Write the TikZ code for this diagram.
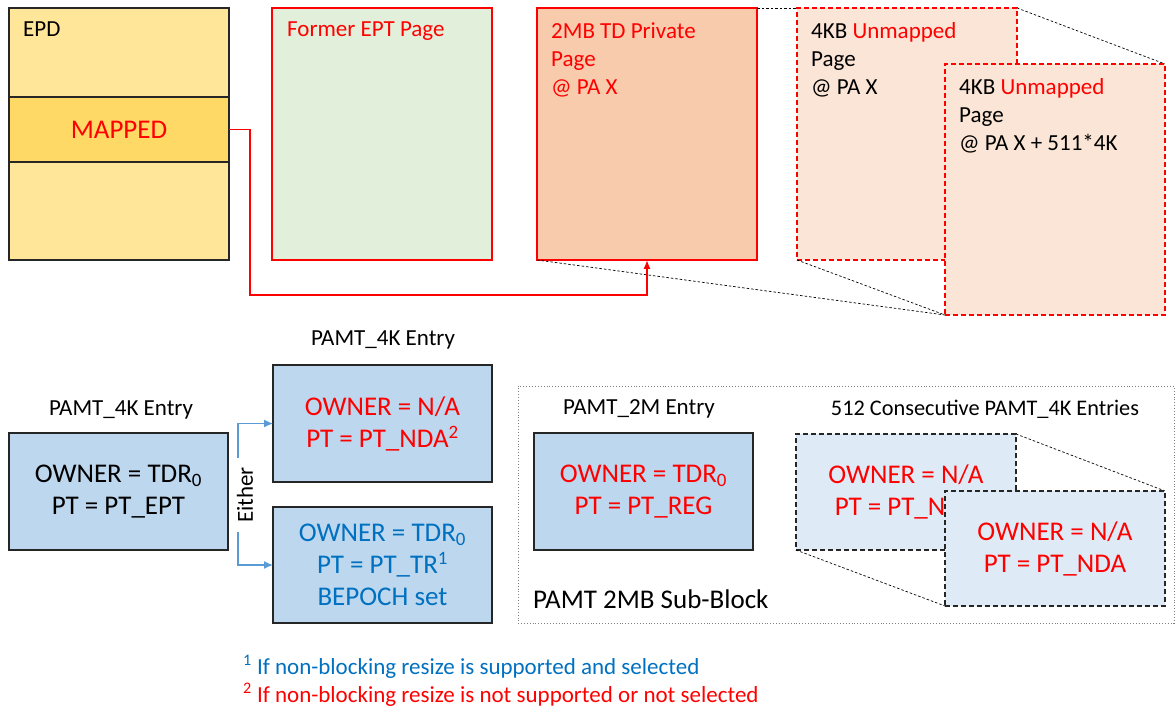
\documentclass[tikz,border=0pt]{standalone}
\usepackage{fontspec}
\setmainfont{Carlito}
\usetikzlibrary{arrows.meta}
\definecolor{epdy}{HTML}{FFE699}
\definecolor{epdm}{HTML}{FFD966}
\definecolor{eptg}{HTML}{E2EFDA}
\definecolor{tdor}{HTML}{F8CBAD}
\definecolor{kbor}{HTML}{FBE5D6}
\definecolor{pblue}{HTML}{BDD7EE}
\definecolor{lblue}{HTML}{DEEBF7}
\definecolor{tblue}{HTML}{0070C0}
\definecolor{ablue}{HTML}{5B9BD5}
\definecolor{xred}{HTML}{FF0000}
\definecolor{bord}{HTML}{262626}
\tikzset{
  lbl/.style={font=\fontsize{23}{28}\selectfont, inner sep=0pt},
  big/.style={font=\fontsize{27}{32}\selectfont, align=center},
  pagebox/.style={draw=xred, line width=1.3pt, minimum width=220pt, minimum height=252pt, outer sep=0pt, inner sep=0pt},
  kbbox/.style={pagebox, fill=kbor, dash pattern=on 5pt off 3pt},
  entry/.style={draw=bord, line width=1.4pt, fill=pblue, minimum width=219pt, minimum height=117pt, outer sep=0pt, big},
  dentry/.style={draw=bord, line width=1.2pt, fill=lblue, dash pattern=on 5pt off 3pt, minimum width=220pt, minimum height=116pt, outer sep=0pt, big},
  guide/.style={draw=black, line width=0.7pt, dash pattern=on 2.5pt off 2pt},
  foot/.style={anchor=west, inner sep=0pt, font=\fontsize{23}{27}\selectfont},
}
\begin{document}
\begin{tikzpicture}[x=1pt,y=-1pt]
\useasboundingbox (0,0) rectangle (1176,711);
% EPD
\node[draw=bord, line width=1.3pt, fill=epdy, minimum width=220pt, minimum height=252pt, outer sep=0pt] (epd) at (119,134) {};
\node[draw=bord, line width=1.3pt, fill=epdm, minimum width=220pt, minimum height=65pt, outer sep=0pt, font=\fontsize{27}{32}\selectfont, text=xred] (mapped) at (119,129.5) {MAPPED};
\node[lbl, anchor=north west] (epdt) at (23,22) {EPD};
% Former EPT page
\node[pagebox, fill=eptg] (ept) at (382,134) {};
\node[lbl, anchor=north west, text=xred] (eptt) at (287,22) {Former EPT Page};
% 2MB TD private page
\node[pagebox, fill=tdor] (td) at (647,134) {};
\node[lbl, anchor=north west, text=xred, align=left] (tdt) at (551,22) {2MB TD Private\\Page\\@ PA X};
% 4KB pages
\node[kbbox] (kb1) at (907,134) {};
\node[lbl, anchor=north west, align=left] (kb1t) at (811,22) {4KB \textcolor{xred}{Unmapped}\\Page\\@ PA X};
\draw[guide] (td.north east) -- (kb1.north west);
\draw[guide] (td.south west) -- (945,315);
\draw[guide] (kb1.south west) -- (945,315);
\draw[guide] (kb1.north east) -- (1165,64);
\node[kbbox, minimum height=251pt] (kb2) at (1055,189.5) {};
\node[lbl, anchor=north west, align=left] (kb2t) at (959,78) {4KB \textcolor{xred}{Unmapped}\\Page\\@ PA X + 511*4K};
% red connector
\coordinate (r1) at (250,295);
\coordinate (r2) at (647,260);
\draw[xred, line width=1.3pt, -{Latex[length=9pt,width=7pt]}] (mapped.east) -| (r1) -| (r2);

% bottom-left entries
\node[lbl] (l1) at (121,410) {PAMT\_4K Entry};
\node[entry] (ept4k) at (118.5,491.5) {OWNER = TDR\textsubscript{0}\\PT = PT\_EPT};
\node[lbl] (l2) at (383,340) {PAMT\_4K Entry};
\node[entry, text=xred] (nda) at (382.5,423.5) {OWNER = N/A\\PT = PT\_NDA\textsuperscript{2}};
\node[entry, text=tblue, minimum height=116pt] (tr) at (382.5,565) {OWNER = TDR\textsubscript{0}\\PT = PT\_TR\textsuperscript{1}\\BEPOCH set};
\node[lbl, rotate=90] (either) at (245,495) {Either};
\coordinate (e1) at (238,458);
\coordinate (e2) at (238,532);
\draw[ablue, line width=1.3pt, -{Latex[length=9pt,width=8pt]}] (e1) |- (nda.west);
\draw[ablue, line width=1.3pt, -{Latex[length=9pt,width=8pt]}] (e2) |- (tr.west);

% PAMT 2MB sub-block
\node[draw=gray, line width=0.9pt, dotted, minimum width=656pt, minimum height=237pt, outer sep=0pt] (sub) at (846,504.5) {};
\node[lbl] (l3) at (639,409) {PAMT\_2M Entry};
\node[entry, text=xred] (reg) at (643.5,491.5) {OWNER = TDR\textsubscript{0}\\PT = PT\_REG};
\node[lbl, font=\fontsize{22.3}{27}\selectfont] (l4) at (985,409) {512 Consecutive PAMT\_4K Entries};
\node[dentry, text=xred] (c1) at (906,492) {OWNER = N/A\\PT = PT\_NDA};
\draw[guide] (c1.north east) -- (1165,491);
\draw[guide] (c1.south west) -- (945,606);
\node[dentry, text=xred, minimum height=115pt] (c2) at (1055,548.5) {OWNER = N/A\\PT = PT\_NDA};
\node[lbl, anchor=west, font=\fontsize{27}{32}\selectfont] (subt) at (533,599) {PAMT 2MB Sub-Block};

% footnotes
\node[foot, text=tblue] (f1) at (243,667) {\textsuperscript{1} If non-blocking resize is supported and selected};
\node[foot, text=xred] (f2) at (243,695) {\textsuperscript{2} If non-blocking resize is not supported or not selected};
\end{tikzpicture}
\end{document}
